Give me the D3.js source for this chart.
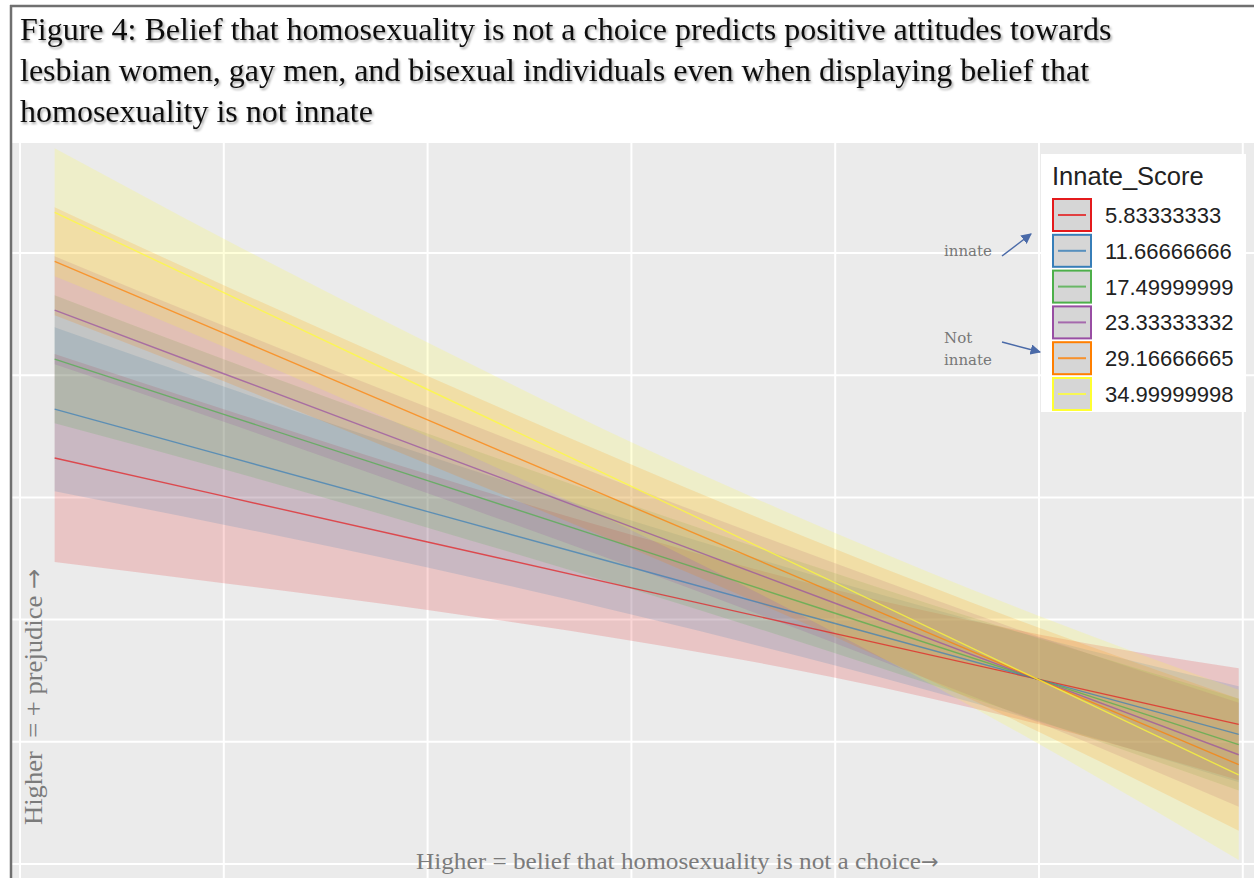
<!DOCTYPE html>
<html>
<head>
<meta charset="utf-8">
<script src="https://cdn.jsdelivr.net/npm/d3@7"></script>
<style>
body { margin: 0; background: #fff; }
svg { display: block; }
</style>
</head>
<body>
<div id="chart"></div>
<script>
// x = belief that homosexuality is not a choice (positions where predictions were read)
var choiceX = [0.17, 1, 2, 3, 4, 5, 5.98];

// legend levels + colours (Set1)
var innateLevels = ["5.83333333", "11.66666666", "17.49999999", "23.33333332", "29.16666665", "34.99999998"];
var innateColors = ["#E41A1C", "#377EB8", "#4DAF4A", "#984EA3", "#FF7F00", "#FFFF33"];

// predicted prejudice (fit) per innate level
var fitRed    = [4.322, 4.010, 3.635, 3.260, 2.885, 2.511, 2.143];
var fitBlue   = [4.722, 4.342, 3.884, 3.426, 2.968, 2.509, 2.061];
var fitGreen  = [5.131, 4.680, 4.137, 3.595, 3.052, 2.509, 1.977];
var fitPurple = [5.532, 5.012, 4.385, 3.759, 3.134, 2.507, 1.894];
var fitOrange = [5.932, 5.344, 4.634, 3.926, 3.217, 2.507, 1.813];
var fitYellow = [6.333, 5.675, 4.883, 4.091, 3.300, 2.506, 1.729];

// confidence band, lower edge
var loRed    = [3.471, 3.298, 3.079, 2.826, 2.525, 2.143, 1.685];
var loBlue   = [4.051, 3.777, 3.426, 3.041, 2.624, 2.165, 1.668];
var loGreen  = [4.607, 4.230, 3.752, 3.251, 2.725, 2.173, 1.601];
var loPurple = [5.090, 4.619, 4.033, 3.432, 2.807, 2.155, 1.468];
var loOrange = [5.490, 4.951, 4.274, 3.582, 2.857, 2.081, 1.273];
var loYellow = [5.809, 5.233, 4.498, 3.731, 2.891, 1.982, 1.033];

// confidence band, upper edge
var hiRed    = [5.173, 4.722, 4.191, 3.694, 3.245, 2.879, 2.601];
var hiBlue   = [5.393, 4.907, 4.342, 3.811, 3.312, 2.853, 2.454];
var hiGreen  = [5.655, 5.130, 4.522, 3.939, 3.379, 2.845, 2.353];
var hiPurple = [5.974, 5.405, 4.737, 4.086, 3.461, 2.859, 2.320];
var hiOrange = [6.374, 5.737, 4.994, 4.270, 3.577, 2.933, 2.353];
var hiYellow = [6.857, 6.117, 5.268, 4.451, 3.709, 3.030, 2.425];

// gridline values
var xGrid = [0, 1, 2, 3, 4, 5, 6];
var yGrid = [1, 2, 3, 4, 5, 6];

var titleLines = [
    "Figure 4: Belief that homosexuality is not a choice predicts positive attitudes towards",
    "lesbian women, gay men, and bisexual individuals even when displaying belief that",
    "homosexuality is not innate"
];

var fits = [fitRed, fitBlue, fitGreen, fitPurple, fitOrange, fitYellow];
var los = [loRed, loBlue, loGreen, loPurple, loOrange, loYellow];
var his = [hiRed, hiBlue, hiGreen, hiPurple, hiOrange, hiYellow];

var series = innateLevels.map(function(lvl, i) {
    return {
        label: lvl,
        color: innateColors[i],
        values: choiceX.map(function(x, j) {
            return { x: x, fit: fits[i][j], lo: los[i][j], hi: his[i][j] };
        })
    };
});

var width = 1254;
var height = 878;

var svg = d3.select("#chart")
    .append("svg")
    .attr("width", width)
    .attr("height", height);

var defs = svg.append("defs");
defs.append("filter")
    .attr("id", "shadow")
    .attr("x", "-5%").attr("y", "-30%")
    .attr("width", "110%").attr("height", "170%")
    .append("feDropShadow")
    .attr("dx", 1.5).attr("dy", 2)
    .attr("stdDeviation", 1.2)
    .attr("flood-color", "#000")
    .attr("flood-opacity", 0.35);

// panel
var panel = { left: 12, top: 143, right: 1254, bottom: 878 };

defs.append("clipPath").attr("id", "clip")
    .append("rect")
    .attr("x", panel.left).attr("y", panel.top)
    .attr("width", panel.right - panel.left)
    .attr("height", panel.bottom - panel.top);

var scalex = d3.scaleLinear().domain([0, 6]).range([20, 1242.8]);
var scaley = d3.scaleLinear().domain([1, 6]).range([864, 253]);

svg.append("rect")
    .attr("x", panel.left).attr("y", panel.top)
    .attr("width", panel.right - panel.left)
    .attr("height", panel.bottom - panel.top)
    .attr("fill", "#EBEBEB");

var plot = svg.append("g").attr("clip-path", "url(#clip)");

// grid
plot.selectAll(".vgrid")
    .data(xGrid)
    .enter()
    .append("line")
    .attr("x1", (d) => scalex(d)).attr("x2", (d) => scalex(d))
    .attr("y1", panel.top).attr("y2", panel.bottom)
    .attr("stroke", "#fff")
    .attr("stroke-width", 2);

plot.selectAll(".hgrid")
    .data(yGrid)
    .enter()
    .append("line")
    .attr("y1", (d) => scaley(d)).attr("y2", (d) => scaley(d))
    .attr("x1", panel.left).attr("x2", panel.right)
    .attr("stroke", "#fff")
    .attr("stroke-width", 2);

var area = d3.area()
    .x((d) => scalex(d.x))
    .y0((d) => scaley(d.lo))
    .y1((d) => scaley(d.hi))
    .curve(d3.curveMonotoneX);

var line = d3.line()
    .x((d) => scalex(d.x))
    .y((d) => scaley(d.fit));

plot.selectAll(".band")
    .data(series)
    .enter()
    .append("path")
    .attr("d", (d) => area(d.values))
    .attr("fill", (d) => d.color)
    .attr("fill-opacity", 0.18);

plot.selectAll(".fit")
    .data(series)
    .enter()
    .append("path")
    .attr("d", (d) => line(d.values))
    .attr("fill", "none")
    .attr("stroke", (d) => d.color)
    .attr("stroke-opacity", 0.7)
    .attr("stroke-width", 1.4);

// axis titles (no tick labels in the original)
var xlab = svg.append("text")
    .attr("x", 416)
    .attr("y", 869)
    .style("font-family", "'Liberation Serif', serif")
    .style("font-size", "23px")
    .attr("fill", "#7b7b7b");
xlab.append("tspan")
    .attr("textLength", 505)
    .attr("lengthAdjust", "spacingAndGlyphs")
    .text("Higher = belief that homosexuality is not a choice");
xlab.append("tspan")
    .style("font-family", "'DejaVu Sans', sans-serif")
    .style("font-size", "21px")
    .text("\u2192");

var ylab = svg.append("text")
    .attr("transform", "translate(42,825) rotate(-90)")
    .attr("xml:space", "preserve")
    .style("white-space", "pre")
    .style("font-family", "'Liberation Serif', serif")
    .style("font-size", "25px")
    .attr("fill", "#7b7b7b");
ylab.append("tspan")
    .attr("textLength", 236)
    .attr("lengthAdjust", "spacingAndGlyphs")
    .text("Higher  = + prejudice ");
ylab.append("tspan")
    .style("font-family", "'DejaVu Sans', sans-serif")
    .style("font-size", "24px")
    .text("\u2192");

// legend
var legend = svg.append("g");
legend.append("rect")
    .attr("x", 1041).attr("y", 154)
    .attr("width", 205).attr("height", 258)
    .attr("fill", "#fff");

legend.append("text")
    .attr("x", 1052).attr("y", 185)
    .style("font-family", "'Liberation Sans', Arial, sans-serif")
    .style("font-size", "25.5px")
    .attr("fill", "#222")
    .text("Innate_Score");

var keys = legend.selectAll(".key")
    .data(series)
    .enter()
    .append("g")
    .attr("transform", (d, i) => "translate(1052," + (198 + i * 35.8) + ")");

keys.append("rect")
    .attr("x", 1).attr("y", 1)
    .attr("width", 38).attr("height", 32)
    .attr("fill", "#D6D6D6")
    .attr("stroke", (d) => d.color)
    .attr("stroke-width", 2);

keys.append("line")
    .attr("x1", 6).attr("x2", 34)
    .attr("y1", 17).attr("y2", 17)
    .attr("stroke", (d) => d.color)
    .attr("stroke-opacity", 0.8)
    .attr("stroke-width", 2);

keys.append("text")
    .attr("x", 53).attr("y", 25)
    .style("font-family", "'Liberation Sans', Arial, sans-serif")
    .style("font-size", "22px")
    .attr("fill", "#222")
    .text((d) => d.label);

// hand notes + arrows
var note = svg.append("g")
    .style("font-family", "'DejaVu Serif', serif")
    .style("font-size", "15px")
    .attr("fill", "#777");
note.append("text").attr("x", 944).attr("y", 256).text("innate");
note.append("text").attr("x", 944).attr("y", 343).text("Not");
note.append("text").attr("x", 944).attr("y", 365).text("innate");

defs.append("marker")
    .attr("id", "arrow")
    .attr("viewBox", "0 0 10 10")
    .attr("refX", 9).attr("refY", 5)
    .attr("markerWidth", 7).attr("markerHeight", 7)
    .attr("orient", "auto")
    .append("path")
    .attr("d", "M0,0 L10,5 L0,10 z")
    .attr("fill", "#4a6aa8");

svg.append("line")
    .attr("x1", 1002).attr("y1", 256)
    .attr("x2", 1031).attr("y2", 234)
    .attr("stroke", "#4a6aa8").attr("stroke-width", 1.5)
    .attr("marker-end", "url(#arrow)");

svg.append("line")
    .attr("x1", 1002).attr("y1", 342)
    .attr("x2", 1040).attr("y2", 352)
    .attr("stroke", "#4a6aa8").attr("stroke-width", 1.5)
    .attr("marker-end", "url(#arrow)");

// title
svg.selectAll(".title")
    .data(titleLines)
    .enter()
    .append("text")
    .attr("x", 20)
    .attr("y", (d, i) => 40 + i * 41)
    .style("font-family", "'Liberation Serif', 'Times New Roman', serif")
    .style("font-size", "32px")
    .attr("fill", "#111")
    .attr("filter", "url(#shadow)")
    .text((d) => d);

// frame round the figure
svg.append("line")
    .attr("x1", 10).attr("x2", width)
    .attr("y1", 6).attr("y2", 6)
    .attr("stroke", "#707070").attr("stroke-width", 2.5);
svg.append("line")
    .attr("x1", 11).attr("x2", 11)
    .attr("y1", 5).attr("y2", height)
    .attr("stroke", "#707070").attr("stroke-width", 2.5);
</script>
</body>
</html>
